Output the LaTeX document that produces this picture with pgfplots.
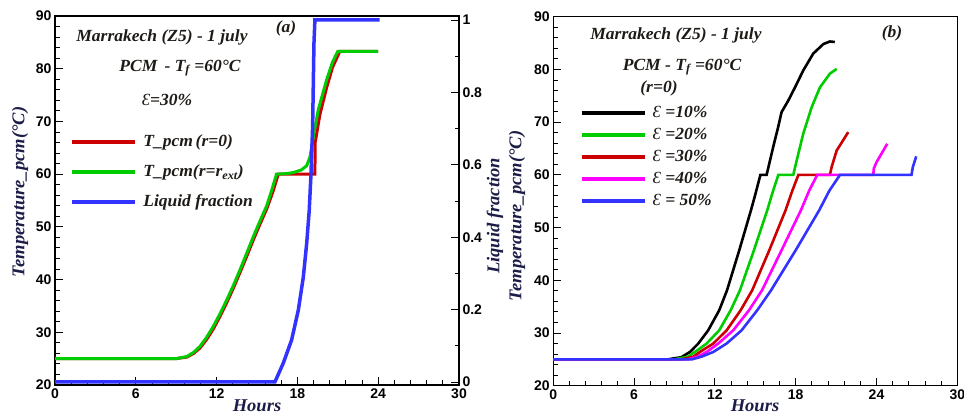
\documentclass[border=0pt]{standalone}
\usepackage{fontspec}
\setmainfont{Liberation Serif}[FakeStretch=1.03]
\newfontfamily\ticksf{Liberation Sans}
\newfontfamily\epsfont{Liberation Serif}
\usepackage{pgfplots}
\pgfplotsset{compat=1.18}

\definecolor{cred}{HTML}{CC0000}
\definecolor{cgreen}{HTML}{00CC00}
\definecolor{cblue}{HTML}{3333FF}
\definecolor{cmag}{HTML}{FF00FF}
\definecolor{txt}{HTML}{1E1A16}
\definecolor{lab}{HTML}{1C1C48}

\newcommand{\eps}{{\epsfont\mdseries\itshape Ɛ}}
\newcommand{\txtfont}{\fontsize{17}{17}\selectfont\bfseries\itshape}

\pgfplotsset{
  panel/.style={
    scale only axis, width=404pt, height=369pt,
    xmin=0, xmax=30, ymin=20, ymax=90,
    xtick={0,6,...,30}, ytick={20,30,...,90},
    minor tick num=4, tick align=inside,
    major tick length=8pt, minor tick length=4.5pt,
    xtick pos=bottom, ytick pos=left,
    axis line style={line width=1.2pt},
    every tick/.style={black, line width=0.9pt},
    tick label style={font=\fontsize{14}{14}\selectfont\ticksf\bfseries},
    /pgf/number format/assume math mode=true,
    legend image code/.code={\draw[#1, line width=4pt] (0pt,0pt) -- (63pt,0pt);},
  },
}

\begin{document}
\begin{tikzpicture}
\path[use as bounding box] (0,0) rectangle (964pt,414pt);

% ---------- (a) PCM temperature and liquid fraction ----------
\begin{axis}[panel, at={(55pt,29pt)}, anchor=south west,
  legend style={draw=none, fill=none, at={(rel axis cs:0.030,0.684)}, anchor=north west,
    font=\txtfont, text=txt, legend cell align=left, row sep=15pt,
    nodes={inner sep=0pt, text height=12pt, text depth=3pt},
    /tikz/every odd column/.style={column sep=6pt}},
]
\addplot[cred, line width=3pt] coordinates {
(0,25)(9.0,25.0)(9.8,25.3)(10.3,26.0)(10.76,27.0)(11.25,28.6)(11.75,30.6)(12.25,33.0)
(12.75,35.6)(13.25,38.4)(13.73,41.3)(14.22,44.3)(14.72,47.5)(15.22,50.5)(15.72,53.4)
(16.2,56.8)(16.58,60)(19.3,60)(19.32,66.0)(19.67,71.3)(20.17,76.4)(20.6,80.2)(21.15,83.3)(24,83.3)};
\addlegendentry{T\_pcm\,(r=0)}
\addplot[cgreen, line width=3pt] coordinates {
(0,25)(9.0,25.0)(9.8,25.4)(10.3,26.2)(10.76,27.3)(11.25,29.0)(11.75,31.1)(12.25,33.5)
(12.75,36.1)(13.25,38.9)(13.73,41.8)(14.22,44.9)(14.72,48.1)(15.22,51.1)(15.72,54.0)
(16.1,57.0)(16.45,60)(17.2,60.1)(17.7,60.3)(18.3,60.8)(18.69,61.6)(18.94,63.3)(19.18,67.1)
(19.55,72.2)(20.17,77.9)(20.6,81.2)(21.0,83.3)(24,83.3)};
\addlegendentry{T\_pcm(r=r\textsubscript{ext})}
\addlegendimage{cblue, line width=3.5pt}
\addlegendentry{Liquid fraction}
\end{axis}

\begin{axis}[panel, at={(55pt,29pt)}, anchor=south west,
  axis x line=none, axis y line*=right, ytick pos=right,
  ymin=-0.0083, ymax=1.011,
  ytick={0,0.2,0.4,0.6,0.8,1}, minor y tick num=1,
  yticklabel style={/pgf/number format/fixed},
]
\addplot[cblue, line width=3.5pt] coordinates {
(0,0)(16.33,0)(16.95,0.052)(17.57,0.116)(18.07,0.199)(18.44,0.29)(18.69,0.383)(18.88,0.475)
(19.0,0.567)(19.13,0.705)(19.23,0.936)(19.3,1.0)(24.1,1.0)};
\end{axis}

% ---------- (b) PCM temperature for several porosities ----------
\begin{axis}[panel, at={(553.3pt,28.3pt)}, anchor=south west,
  legend style={draw=none, fill=none, at={(rel axis cs:0.057,0.765)}, anchor=north west,
    font=\txtfont, text=txt, legend cell align=left, row sep=7pt,
    nodes={inner sep=0pt, text height=12pt, text depth=3pt},
    /tikz/every odd column/.style={column sep=6pt}},
]
\addplot[black, line width=2.6pt] coordinates {
(0,25)(8.5,25)(9.5,25.4)(10.15,26.4)(10.77,28.0)(11.5,30.5)(12.32,34.3)(12.9,38.1)
(13.81,45.7)(14.68,53.3)(14.97,56)(15.38,60)(15.84,60)(16.09,62.7)(16.33,65.3)(16.7,69.1)
(16.95,71.9)(17.45,74.1)(17.95,76.6)(18.56,79.8)(19.3,83.0)(20.05,84.8)(20.54,85.3)(20.9,85.2)};
\addlegendentry{\eps\ =10\%}
\addplot[cgreen, line width=2.6pt] coordinates {
(0,25)(9,25)(10,25.5)(10.52,26.4)(11.39,28.0)(12.32,30.5)(13.17,34.3)(13.86,38.1)
(14.9,45.7)(15.89,53.3)(16.3,56.8)(16.71,60)(17.82,60)(18.07,62.7)(18.56,67.8)(19.18,72.8)
(19.8,76.6)(20.54,79.2)(21.04,80.1)};
\addlegendentry{\eps\ =20\%}
\addplot[cred, line width=2.6pt] coordinates {
(0,25)(9.5,25)(10.4,25.5)(10.89,26.4)(11.88,28.0)(12.87,30.5)(13.91,34.3)(14.77,38.1)
(16.04,45.7)(17.25,53.3)(17.75,57)(18.2,60)(20.54,60)(20.67,61.5)(21.04,64.6)(21.9,68.1)};
\addlegendentry{\eps\ =30\%}
\addplot[cmag, line width=2.6pt] coordinates {
(0,25)(10,25)(10.7,25.5)(11.39,26.4)(12.25,28.0)(13.36,30.5)(14.53,34.3)(15.5,38.1)
(16.95,45.7)(18.39,53.3)(19.0,57)(19.6,60)(23.76,60)(23.8,61.2)(24.0,62.4)(24.8,65.9)};
\addlegendentry{\eps\ =40\%}
\addplot[cblue, line width=2.6pt] coordinates {
(0,25)(10.3,25)(11.0,25.5)(11.88,26.4)(12.87,28.0)(13.98,30.5)(15.14,34.3)(16.17,38.1)
(18.0,45.7)(19.75,53.3)(20.5,57)(21.29,60)(26.6,60)(26.7,61.5)(26.95,63.5)};
\addlegendentry{\eps\ = 50\%}
\end{axis}

% ---------- annotations ----------
\begin{scope}[every node/.style={font=\txtfont, text=txt}]
\node at (162pt,377pt) {Marrakech (Z5) - 1 july};
\node at (180pt,346pt) {PCM\ \,-\ T\textsubscript{f} =60°C};
\node at (167pt,314pt) {\eps=30\%};
\node at (286pt,386pt) {(a)};
\node at (676pt,379pt) {Marrakech (Z5) - 1 july};
\node at (682pt,347pt) {PCM - T\textsubscript{f} =60°C};
\node at (659pt,326pt) {(r=0)};
\node at (892pt,381pt) {(b)};
\end{scope}
\begin{scope}[every node/.style={font=\fontsize{18}{18}\selectfont\bfseries\itshape, text=lab}]
\node at (257pt,8pt) {Hours};
\node at (755pt,8pt) {Hours};
\node[rotate=90] at (20pt,222pt) {Temperature\_pcm(°C)};
\node[rotate=90] at (495pt,198pt) {Liquid fraction};
\node[rotate=90] at (517pt,198pt) {Temperature\_pcm(°C)};
\end{scope}
\end{tikzpicture}
\end{document}
